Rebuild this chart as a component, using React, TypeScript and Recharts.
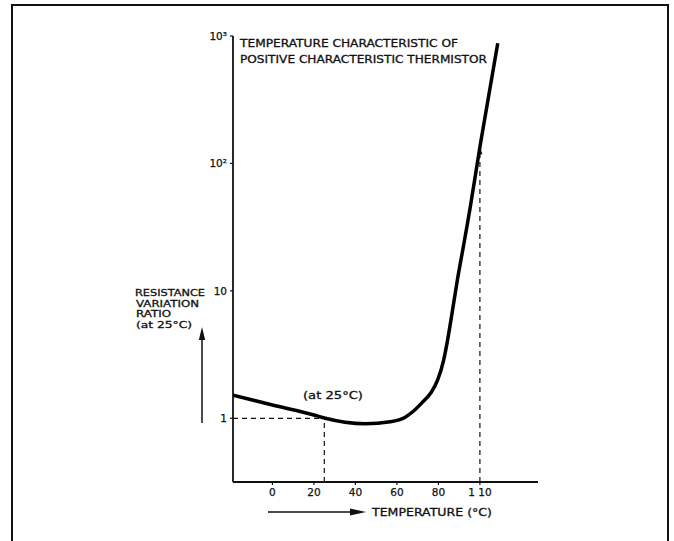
import React from "react";
import {
  LineChart,
  Line,
  XAxis,
  YAxis,
  ReferenceLine,
  ReferenceDot,
  Customized,
} from "recharts";

// Curve: temperature (axis units) vs resistance variation ratio
const temps = [-19, 0, 20, 25.5, 35, 44.7, 56.8, 64, 67.9, 72.3, 76.2, 79.6, 82.5, 84.4, 86.8, 89.3, 91.7, 94.1, 95.5, 100.3, 108.6];
const ratios = [1.52, 1.27, 1.06, 1.0, 0.93, 0.905, 0.94, 1.02, 1.135, 1.335, 1.57, 1.99, 2.85, 4.09, 7.04, 12.6, 20.8, 34.5, 47, 144, 878];

const xTickValues = [0, 20, 40, 60, 80, 100];
const xTickLabels = ["0", "20", "40", "60", "80", "1 10"];
const yTickValues = [1, 10, 100, 1000];
const yTickLabels = ["1", "10", "10²", "10³"];

const xDomain = [-19, 128];
const yDomain = [Math.pow(10, -0.5), 1000];

const refTemp = 25;
const refRatio = 1;
const highTemp = 100;
const highRatio = 134;

const data = temps.map((t, i) => ({ t, r: ratios[i] }));

const FONT = "'DejaVu Sans', 'Liberation Sans', sans-serif";
const INK = "#111";

const YTick = (props: any) => {
  const { x, y, payload } = props;
  const idx = yTickValues.indexOf(payload.value);
  const label = idx >= 0 ? yTickLabels[idx] : String(payload.value);
  return (
    <text x={x} y={y} dy={4} textAnchor="end" fontSize={10.5} fontFamily={FONT} fill={INK} stroke={INK} strokeWidth={0.25}>
      {label}
    </text>
  );
};

const XTick = (props: any) => {
  const { x, y, payload } = props;
  const idx = xTickValues.indexOf(payload.value);
  const label = idx >= 0 ? xTickLabels[idx] : String(payload.value);
  return (
    <text x={x} y={y} dy={8} textAnchor="middle" fontSize={10.5} fontFamily={FONT} fill={INK} stroke={INK} strokeWidth={0.25}>
      {label}
    </text>
  );
};

const ArrowHead = (props: any) => {
  const { cx, cy } = props;
  if (cx == null || cy == null) return null;
  return <path d={`M${cx},${cy} L${cx - 2.5},${cy + 7} L${cx + 2.5},${cy + 7} Z`} fill="#000" />;
};

const Decorations = () => (
  <g fontFamily={FONT} fill={INK}>
    {/* frame */}
    <path d="M12,541 L12,5 L668,5 L668,541" fill="none" stroke={INK} strokeWidth={2} />
    <g stroke={INK} strokeWidth={0.3}>
      {/* title */}
      <text x={240} y={47} fontSize={11} textLength={218} lengthAdjust="spacingAndGlyphs">
        TEMPERATURE CHARACTERISTIC  OF
      </text>
      <text x={240} y={63} fontSize={11} textLength={247} lengthAdjust="spacingAndGlyphs">
        POSITIVE CHARACTERISTIC THERMISTOR
      </text>
      {/* y axis title */}
      <text x={135} y={295.5} fontSize={9.5} textLength={70} lengthAdjust="spacingAndGlyphs">RESISTANCE</text>
      <text x={136} y={306.5} fontSize={9.5} textLength={63} lengthAdjust="spacingAndGlyphs">VARIATION</text>
      <text x={136} y={317} fontSize={9.5} textLength={35} lengthAdjust="spacingAndGlyphs">RATIO</text>
      <text x={136} y={328} fontSize={9.5} textLength={56} lengthAdjust="spacingAndGlyphs">(at 25°C)</text>
      {/* x axis title */}
      <text x={372} y={516} fontSize={10.5} textLength={120} lengthAdjust="spacingAndGlyphs">TEMPERATURE (°C)</text>
      {/* annotation */}
      <text x={303} y={399} fontSize={10.5} textLength={60} lengthAdjust="spacingAndGlyphs">(at 25°C)</text>
    </g>
    <line x1={202} y1={423} x2={202} y2={338} stroke={INK} strokeWidth={1.5} />
    <path d="M202,327 L198.8,340 L205.2,340 Z" fill={INK} />
    <line x1={268} y1={512} x2={352} y2={512} stroke={INK} strokeWidth={1.5} />
    <path d="M366,512 L350,508.5 L350,515.5 Z" fill={INK} />
  </g>
);

export default function App() {
  return (
    <div style={{ position: "absolute", left: 0, top: 0, width: 674, height: 541, background: "#fff" }}>
      <LineChart
        width={674}
        height={541}
        data={data}
        margin={{ top: 36, right: 136, bottom: 29, left: 173 }}
      >
        <XAxis
          dataKey="t"
          type="number"
          domain={xDomain}
          ticks={xTickValues}
          allowDataOverflow
          height={30}
          axisLine={{ stroke: INK, strokeWidth: 1.8 }}
          tickLine={{ stroke: INK, strokeWidth: 1.2 }}
          tickSize={3}
          tickMargin={3}
          tick={<XTick />}
        />
        <YAxis
          dataKey="r"
          type="number"
          scale="log"
          domain={yDomain}
          ticks={yTickValues}
          allowDataOverflow
          width={60}
          axisLine={{ stroke: INK, strokeWidth: 1.8 }}
          tickLine={{ stroke: INK, strokeWidth: 1.2 }}
          tickSize={3}
          tickMargin={3}
          tick={<YTick />}
        />
        <ReferenceLine
          segment={[{ x: xDomain[0], y: refRatio }, { x: refTemp, y: refRatio }]}
          stroke={INK}
          strokeWidth={1.2}
          strokeDasharray="5 4"
        />
        <ReferenceLine
          segment={[{ x: refTemp, y: yDomain[0] }, { x: refTemp, y: refRatio }]}
          stroke={INK}
          strokeWidth={1.2}
          strokeDasharray="5 4"
        />
        <ReferenceLine
          segment={[{ x: highTemp, y: yDomain[0] }, { x: highTemp, y: highRatio }]}
          stroke={INK}
          strokeWidth={1.2}
          strokeDasharray="5 4"
        />
        <ReferenceDot x={highTemp} y={highRatio} r={3} shape={<ArrowHead />} />
        <Line
          type="monotone"
          dataKey="r"
          stroke="#000"
          strokeWidth={3.5}
          dot={false}
          isAnimationActive={false}
        />
        <Customized component={<Decorations />} />
      </LineChart>
    </div>
  );
}
